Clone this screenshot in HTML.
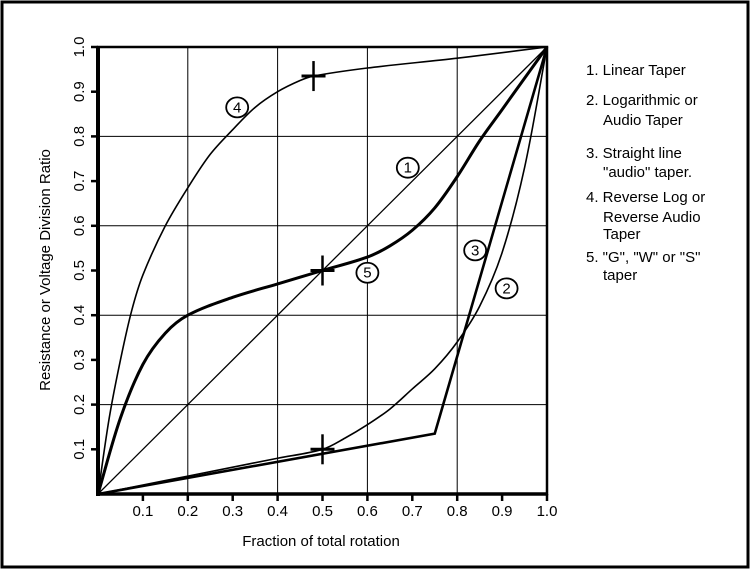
<!DOCTYPE html>
<html><head><meta charset="utf-8"><style>
html,body{margin:0;padding:0;background:#fff}
svg{display:block}
text{font-family:"Liberation Sans",sans-serif;fill:#000}
</style></head><body>
<svg id="chart" width="751" height="571" viewBox="0 0 751 571" xmlns="http://www.w3.org/2000/svg">
<rect x="2" y="2" width="746" height="565" fill="#fff" stroke="#000" stroke-width="3"/>
<g id="grid"></g>
<g id="series"></g>
<g id="axes"></g>
<text x="321" y="546" font-size="15" text-anchor="middle">Fraction of total rotation</text>
<text transform="translate(50,270) rotate(-90)" font-size="15" text-anchor="middle">Resistance or Voltage Division Ratio</text>
<g font-size="15">
<text x="586" y="75">1. Linear Taper</text>
<text x="586" y="105">2. Logarithmic or<tspan x="603" y="125">Audio Taper</tspan></text>
<text x="586" y="158">3. Straight line<tspan x="603" y="177">"audio" taper.</tspan></text>
<text x="586" y="202">4. Reverse Log or<tspan x="603" y="222">Reverse Audio</tspan><tspan x="603" y="239">Taper</tspan></text>
<text x="586" y="262">5. "G", "W" or "S"<tspan x="603" y="280">taper</tspan></text>
</g>
</svg>
<script>
const xTicks=[0.1,0.2,0.3,0.4,0.5,0.6,0.7,0.8,0.9,1.0];
const yTicks=[0.1,0.2,0.3,0.4,0.5,0.6,0.7,0.8,0.9,1.0];
const gridVals=[0.2,0.4,0.6,0.8];
const linearX=[0,1];
const linearY=[0,1];
const logX=[0,0.1,0.2,0.3,0.4,0.5,0.55,0.6,0.65,0.7,0.75,0.8,0.85,0.9,0.95,1];
const logY=[0,0.02,0.04,0.06,0.08,0.1,0.125,0.155,0.19,0.235,0.28,0.34,0.42,0.54,0.73,1];
const straightX=[0,0.75,1];
const straightY=[0,0.135,1];
const revX=[0,0.025,0.05,0.075,0.1,0.15,0.2,0.25,0.3,0.35,0.4,0.45,0.48,0.6,0.8,1];
const revY=[0,0.17,0.3,0.41,0.49,0.6,0.685,0.76,0.815,0.865,0.9,0.925,0.935,0.953,0.975,1];
const sX=[0,0.05,0.1,0.15,0.2,0.3,0.4,0.5,0.6,0.65,0.7,0.75,0.8,0.85,0.9,0.95,1];
const sY=[0,0.17,0.29,0.36,0.4,0.44,0.47,0.5,0.53,0.555,0.59,0.64,0.71,0.79,0.86,0.93,1];
const markX=[0.48,0.5,0.5];
const markY=[0.935,0.5,0.1];
const labelNames=["4","1","5","3","2"];
const labelX=[0.31,0.69,0.6,0.84,0.91];
const labelY=[0.865,0.73,0.495,0.545,0.46];

const X0=98,X1=547,Y0=494,Y1=47;
const sx=v=>X0+(X1-X0)*v, sy=v=>Y0-(Y0-Y1)*v;
const NS="http://www.w3.org/2000/svg";
function mk(tag,attrs,parent){const e=document.createElementNS(NS,tag);for(const k in attrs)e.setAttribute(k,attrs[k]);parent.appendChild(e);return e;}
const grid=document.getElementById('grid'),series=document.getElementById('series'),axes=document.getElementById('axes');
gridVals.forEach(v=>{
  const a=mk('line',{x1:sx(v),x2:sx(v),y1:sy(0),y2:sy(1),stroke:'#000','stroke-width':1},grid);
  
  
  const b=mk('line',{x1:sx(0),x2:sx(1),y1:sy(v),y2:sy(v),stroke:'#000','stroke-width':1},grid);
  
  
});
function smooth(xs,ys){
  const p=xs.map((x,i)=>[sx(x),sy(ys[i])]);
  let d='M'+p[0][0]+','+p[0][1];
  for(let i=0;i<p.length-1;i++){
    const p0=p[Math.max(0,i-1)],p1=p[i],p2=p[i+1],p3=p[Math.min(p.length-1,i+2)];
    const d01=Math.hypot(p2[0]-p1[0],p2[1]-p1[1]);
    const dA=Math.hypot(p2[0]-p0[0],p2[1]-p0[1])||1, dB=Math.hypot(p3[0]-p1[0],p3[1]-p1[1])||1;
    const c1=[p1[0]+(p2[0]-p0[0])/dA*d01/3,p1[1]+(p2[1]-p0[1])/dA*d01/3];
    const c2=[p2[0]-(p3[0]-p1[0])/dB*d01/3,p2[1]-(p3[1]-p1[1])/dB*d01/3];
    d+=' C'+c1+' '+c2+' '+p2;
  }
  return d;
}
function poly(xs,ys){return 'M'+xs.map((x,i)=>sx(x)+','+sy(ys[i])).join(' L');}
const curves=[
  ['linear-taper-line',poly(linearX,linearY),1.3],
  ['log-taper-line',smooth(logX,logY),1.6],
  ['straight-audio-taper-line',poly(straightX,straightY),2.6],
  ['reverse-log-taper-line',smooth(revX,revY),1.6],
  ['s-taper-line',smooth(sX,sY),3]
];
curves.forEach(c=>{
  const e=mk('path',{d:c[1],fill:'none',stroke:'#000','stroke-width':c[2],'stroke-linejoin':'miter'},series);
  
  
});
markX.forEach((x,i)=>{
  const cx=sx(x),cy=sy(markY[i]);
  const h=mk('line',{x1:cx-12,x2:cx+12,y1:cy,y2:cy,stroke:'#000','stroke-width':3},series);
  
  
  const v=mk('line',{x1:cx,x2:cx,y1:cy-15,y2:cy+15,stroke:'#000','stroke-width':2.5},series);
  
  
});
labelNames.forEach((n,i)=>{
  const cx=sx(labelX[i]),cy=sy(labelY[i]);
  const c=mk('ellipse',{cx:cx,cy:cy,rx:11,ry:10,fill:'#fff',stroke:'#000','stroke-width':1.8},series);
  
  
  const t=mk('text',{x:cx,y:cy+5,'font-size':15,'text-anchor':'middle'},series);
  t.textContent=n;
  
  
});
const fr=mk('rect',{x:sx(0),y:sy(1),width:sx(1)-sx(0),height:sy(0)-sy(1),fill:'none',stroke:'#000','stroke-width':2.5},axes);


const la=mk('line',{x1:sx(0),x2:sx(0),y1:sy(1)-1,y2:sy(0)+2,stroke:'#000','stroke-width':4},axes);


const ba=mk('line',{x1:sx(0)-2,x2:sx(1)+1,y1:sy(0),y2:sy(0),stroke:'#000','stroke-width':3.5},axes);


xTicks.forEach(v=>{
  const t=mk('line',{x1:sx(v),x2:sx(v),y1:sy(0),y2:sy(0)+7,stroke:'#000','stroke-width':2.5},axes);
  
  
  const l=mk('text',{x:sx(v),y:sy(0)+22,'font-size':15,'text-anchor':'middle'},axes);
  l.textContent=v.toFixed(1);
  
  
});
yTicks.forEach(v=>{
  const t=mk('line',{x1:sx(0)-7,x2:sx(0),y1:sy(v),y2:sy(v),stroke:'#000','stroke-width':2.5},axes);
  
  
  const l=mk('text',{transform:'translate('+(sx(0)-14)+','+sy(v)+') rotate(-90)','font-size':15,'text-anchor':'middle'},axes);
  l.textContent=v.toFixed(1);
  
  
});
</script>
</body></html>
